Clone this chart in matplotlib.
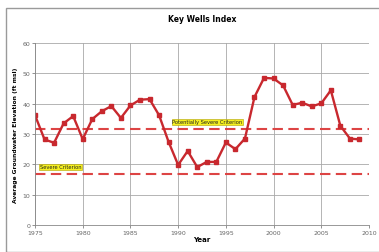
import matplotlib
matplotlib.use("Agg")
import matplotlib.pyplot as plt
from matplotlib.patches import Rectangle

years = list(range(1975, 2010))
values = [36.2, 28.2, 27.1, 33.5, 35.9, 28.3, 34.9, 37.5, 39.2, 35.3,
          39.4, 41.3, 41.5, 36.2, 27.4, 19.8, 24.4, 19.1, 20.8, 20.8,
          27.2, 25.0, 28.5, 42.2, 48.5, 48.3, 46.0, 39.6, 40.3, 39.1,
          40.1, 44.4, 32.7, 28.5, 28.2]
potentially_severe = 31.7
severe = 16.7
xticks = [1975, 1980, 1985, 1990, 1995, 2000, 2005, 2010]
yticks = [0, 10, 20, 30, 40, 50, 60]

fig = plt.figure(figsize=(3.79, 2.53), dpi=100)
fig.patch.set_facecolor("white")
fig.add_artist(Rectangle((6/379, 0.0), 1.0, 1 - 9/253, transform=fig.transFigure,
                         fill=False, edgecolor="#9a9a9a", linewidth=1.0))

ax = fig.add_axes([35/379, 1 - 226/253, (369-35)/379, (226-44)/253])
ax.set_xlim(1975, 2010)
ax.set_ylim(0, 60)
ax.set_xticks(xticks)
ax.set_yticks(yticks)
ax.grid(True, color="#a8a8a8", linewidth=0.6)
ax.set_axisbelow(True)
for s in ["top", "right"]:
    ax.spines[s].set_visible(False)
ax.spines["left"].set_color("#888888")
ax.spines["bottom"].set_color("#888888")
ax.spines["left"].set_linewidth(0.6)
ax.spines["bottom"].set_linewidth(0.6)
ax.tick_params(labelsize=4.5, colors="#666666", length=2, width=0.5, pad=1.5)

ax.axhline(potentially_severe, color="#dd4444", linestyle=(0, (5, 2.6)), linewidth=1.5)
ax.axhline(severe, color="#dd4444", linestyle=(0, (5, 2.6)), linewidth=1.5)

ax.plot(years, values, color="#c8282e", linewidth=1.7, marker="s", markersize=3.4,
        markerfacecolor="#c8282e", markeredgecolor="#c8282e")

box = dict(boxstyle="square,pad=0.15", facecolor="#f5f020", edgecolor="#b0a000", linewidth=0.4)
ax.text(1989.4, potentially_severe + 1.5, "Potentially Severe Criterion", fontsize=3.7,
        va="bottom", ha="left", bbox=box, color="#222222")
ax.text(1975.5, severe + 1.6, "Severe Criterion", fontsize=3.7,
        va="bottom", ha="left", bbox=box, color="#222222")

ax.set_xlabel("Year", fontsize=5, fontweight="bold", labelpad=1)
ax.set_ylabel("Average Groundwater Elevation (ft msl)", fontsize=4.3, fontweight="bold", labelpad=3)
fig.text((35+369)/2/379, 1 - 20/253, "Key Wells Index", fontsize=5.5, fontweight="bold",
         ha="center", va="center")

fig.savefig("out.png", dpi=100)
